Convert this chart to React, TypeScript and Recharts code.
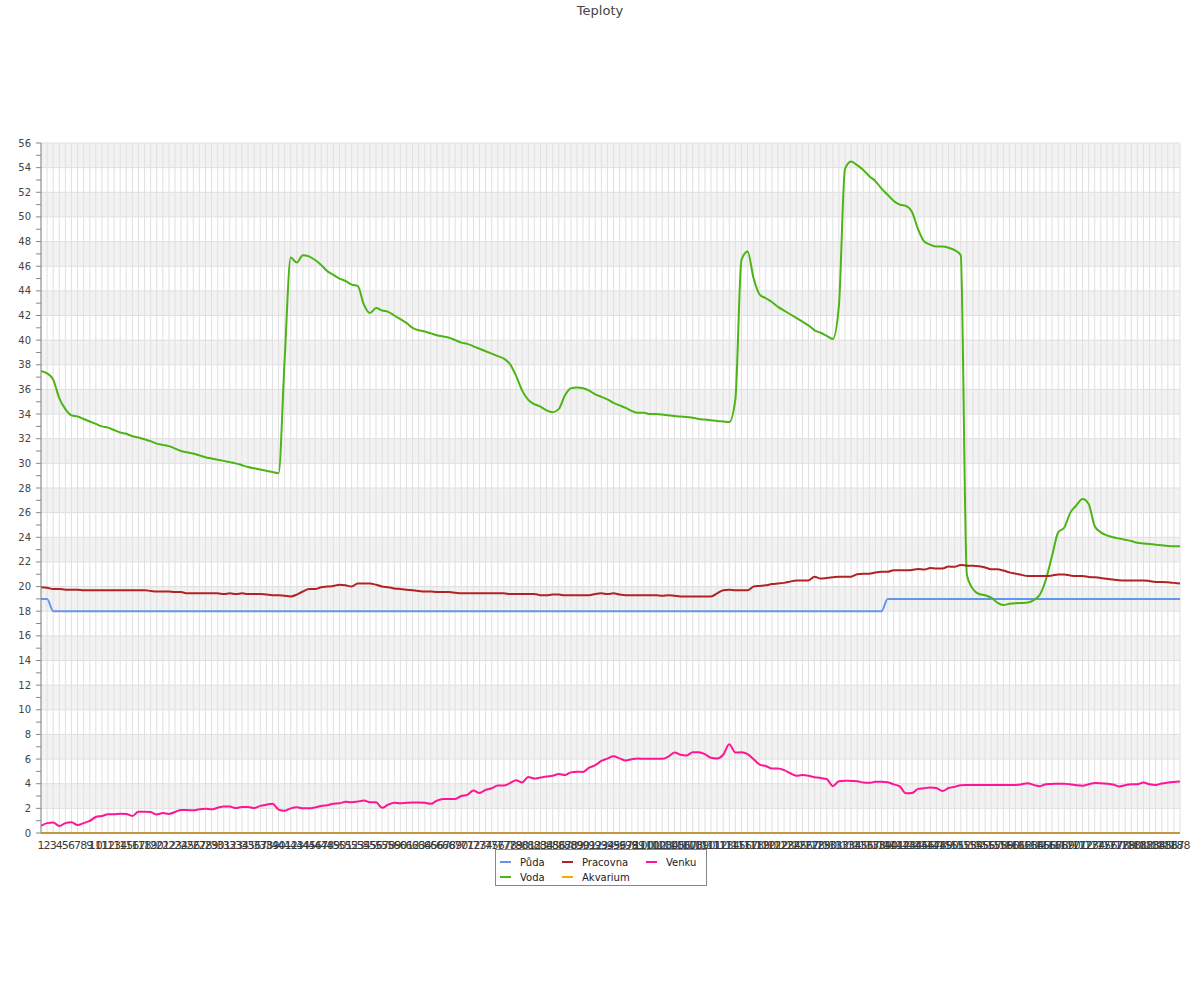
import React from 'react';
import { LineChart, Line, XAxis, YAxis, CartesianGrid } from 'recharts';

// x categories: sample number 1..188
const hours = Array.from({ length: 188 }, (_, i) => String(i + 1));

const yTicks = Array.from({ length: 57 }, (_, i) => i);
const yGridValues = yTicks.filter((v) => v % 2 === 0);

const puda = [
  19, 19, 18, 18, 18, 18, 18, 18, 18, 18,
  18, 18, 18, 18, 18, 18, 18, 18, 18, 18,
  18, 18, 18, 18, 18, 18, 18, 18, 18, 18,
  18, 18, 18, 18, 18, 18, 18, 18, 18, 18,
  18, 18, 18, 18, 18, 18, 18, 18, 18, 18,
  18, 18, 18, 18, 18, 18, 18, 18, 18, 18,
  18, 18, 18, 18, 18, 18, 18, 18, 18, 18,
  18, 18, 18, 18, 18, 18, 18, 18, 18, 18,
  18, 18, 18, 18, 18, 18, 18, 18, 18, 18,
  18, 18, 18, 18, 18, 18, 18, 18, 18, 18,
  18, 18, 18, 18, 18, 18, 18, 18, 18, 18,
  18, 18, 18, 18, 18, 18, 18, 18, 18, 18,
  18, 18, 18, 18, 18, 18, 18, 18, 18, 18,
  18, 18, 18, 18, 18, 18, 18, 18, 18, 19,
  19, 19, 19, 19, 19, 19, 19, 19, 19, 19,
  19, 19, 19, 19, 19, 19, 19, 19, 19, 19,
  19, 19, 19, 19, 19, 19, 19, 19, 19, 19,
  19, 19, 19, 19, 19, 19, 19, 19, 19, 19,
  19, 19, 19, 19, 19, 19, 19, 19,
];

const voda = [
  37.5, 37.3, 36.8, 35.3, 34.4, 33.9, 33.8, 33.6, 33.4, 33.2,
  33.0, 32.9, 32.7, 32.5, 32.4, 32.2, 32.1, 31.95, 31.8, 31.6,
  31.5, 31.4, 31.2, 31.0, 30.9, 30.8, 30.65, 30.5, 30.4, 30.3,
  30.2, 30.1, 30.0, 29.85, 29.7, 29.6, 29.5, 29.4, 29.3, 29.2,
  38.4, 46.7, 46.3, 46.9, 46.8, 46.5, 46.1, 45.6, 45.3, 45.0,
  44.8, 44.5, 44.4, 42.9, 42.2, 42.6, 42.4, 42.3, 42.0, 41.7,
  41.4, 41.0, 40.8, 40.7, 40.55, 40.4, 40.3, 40.2, 40.0, 39.8,
  39.7, 39.5, 39.3, 39.1, 38.9, 38.7, 38.5, 38.05, 37.1, 35.9,
  35.15, 34.8, 34.6, 34.3, 34.15, 34.4, 35.5, 36.1, 36.15, 36.1,
  35.9, 35.6, 35.4, 35.2, 34.9, 34.7, 34.5, 34.25, 34.1, 34.1,
  34.0, 34.0, 33.96, 33.9, 33.85, 33.8, 33.77, 33.7, 33.6, 33.55,
  33.5, 33.44, 33.4, 33.36, 35.2, 46.5, 47.2, 45.0, 43.7, 43.4,
  43.1, 42.7, 42.4, 42.1, 41.8, 41.5, 41.2, 40.8, 40.6, 40.35,
  40.1, 42.8, 53.9, 54.5, 54.2, 53.8, 53.3, 52.9, 52.3, 51.8,
  51.3, 51.0, 50.9, 50.4, 49.0, 48.0, 47.75, 47.6, 47.6, 47.5,
  47.3, 46.9, 21.0, 19.8, 19.4, 19.3, 19.1, 18.7, 18.5, 18.6,
  18.65, 18.67, 18.7, 18.9, 19.35, 20.6, 22.5, 24.4, 24.8, 26.0,
  26.6, 27.1, 26.7, 24.9, 24.4, 24.15, 24.0, 23.9, 23.8, 23.7,
  23.55, 23.5, 23.45, 23.4, 23.35, 23.3, 23.28, 23.28,
];

const pracovna = [
  19.95, 19.9, 19.8, 19.8, 19.75, 19.75, 19.75, 19.7, 19.7, 19.7,
  19.7, 19.7, 19.7, 19.7, 19.7, 19.7, 19.7, 19.7, 19.65, 19.6,
  19.6, 19.6, 19.55, 19.55, 19.45, 19.45, 19.45, 19.45, 19.45, 19.45,
  19.4, 19.45, 19.4, 19.45, 19.4, 19.4, 19.4, 19.35, 19.3, 19.3,
  19.25, 19.2, 19.35, 19.6, 19.8, 19.8, 19.95, 20.0, 20.05, 20.15,
  20.1, 20.0, 20.25, 20.25, 20.25, 20.15, 20.0, 19.95, 19.85, 19.8,
  19.75, 19.7, 19.65, 19.6, 19.6, 19.55, 19.55, 19.55, 19.5, 19.45,
  19.45, 19.45, 19.45, 19.45, 19.45, 19.45, 19.45, 19.4, 19.4, 19.4,
  19.4, 19.4, 19.3, 19.3, 19.35, 19.35, 19.3, 19.3, 19.3, 19.3,
  19.3, 19.4, 19.45, 19.4, 19.45, 19.35, 19.3, 19.3, 19.3, 19.3,
  19.3, 19.3, 19.25, 19.3, 19.25, 19.2, 19.2, 19.2, 19.2, 19.2,
  19.2, 19.45, 19.7, 19.75, 19.7, 19.7, 19.7, 20.0, 20.05, 20.1,
  20.2, 20.25, 20.3, 20.4, 20.5, 20.5, 20.5, 20.8, 20.65, 20.7,
  20.75, 20.8, 20.8, 20.8, 21.0, 21.05, 21.05, 21.15, 21.2, 21.2,
  21.33, 21.33, 21.33, 21.35, 21.42, 21.38, 21.5, 21.47, 21.47, 21.62,
  21.6, 21.75, 21.7, 21.7, 21.65, 21.55, 21.4, 21.4, 21.3, 21.15,
  21.05, 20.95, 20.85, 20.85, 20.85, 20.85, 20.9, 20.98, 20.98, 20.9,
  20.85, 20.85, 20.78, 20.75, 20.7, 20.63, 20.57, 20.52, 20.5, 20.5,
  20.5, 20.5, 20.45, 20.38, 20.38, 20.35, 20.3, 20.25,
];

const akvarium = [
  0, 0, 0, 0, 0, 0, 0, 0, 0, 0,
  0, 0, 0, 0, 0, 0, 0, 0, 0, 0,
  0, 0, 0, 0, 0, 0, 0, 0, 0, 0,
  0, 0, 0, 0, 0, 0, 0, 0, 0, 0,
  0, 0, 0, 0, 0, 0, 0, 0, 0, 0,
  0, 0, 0, 0, 0, 0, 0, 0, 0, 0,
  0, 0, 0, 0, 0, 0, 0, 0, 0, 0,
  0, 0, 0, 0, 0, 0, 0, 0, 0, 0,
  0, 0, 0, 0, 0, 0, 0, 0, 0, 0,
  0, 0, 0, 0, 0, 0, 0, 0, 0, 0,
  0, 0, 0, 0, 0, 0, 0, 0, 0, 0,
  0, 0, 0, 0, 0, 0, 0, 0, 0, 0,
  0, 0, 0, 0, 0, 0, 0, 0, 0, 0,
  0, 0, 0, 0, 0, 0, 0, 0, 0, 0,
  0, 0, 0, 0, 0, 0, 0, 0, 0, 0,
  0, 0, 0, 0, 0, 0, 0, 0, 0, 0,
  0, 0, 0, 0, 0, 0, 0, 0, 0, 0,
  0, 0, 0, 0, 0, 0, 0, 0, 0, 0,
  0, 0, 0, 0, 0, 0, 0, 0,
];

const venku = [
  0.57, 0.8, 0.85, 0.57, 0.8, 0.87, 0.65, 0.8, 0.98, 1.3,
  1.38, 1.52, 1.52, 1.57, 1.55, 1.38, 1.73, 1.73, 1.7, 1.5,
  1.62, 1.55, 1.7, 1.87, 1.86, 1.85, 1.93, 1.97, 1.92, 2.05,
  2.15, 2.15, 2.02, 2.12, 2.12, 2.02, 2.2, 2.3, 2.38, 1.9,
  1.8, 2.0, 2.1, 2.0, 2.0, 2.08, 2.2, 2.25, 2.38, 2.41,
  2.53, 2.5, 2.55, 2.63, 2.5, 2.49, 2.05, 2.3, 2.45, 2.42,
  2.45, 2.47, 2.47, 2.45, 2.37, 2.63, 2.76, 2.76, 2.76, 3.0,
  3.1, 3.44, 3.25, 3.5, 3.63, 3.85, 3.85, 4.05, 4.28, 4.1,
  4.55, 4.42, 4.5, 4.58, 4.65, 4.78, 4.7, 4.92, 4.98, 4.96,
  5.3, 5.5, 5.85, 6.04, 6.22, 6.06, 5.88, 5.99, 6.05, 6.02,
  6.02, 6.02, 6.02, 6.2, 6.54, 6.35, 6.29, 6.55, 6.55, 6.4,
  6.1, 6.05, 6.35, 7.2, 6.53, 6.55, 6.4, 5.98, 5.55, 5.44,
  5.23, 5.23, 5.1, 4.85, 4.65, 4.7, 4.65, 4.53, 4.47, 4.38,
  3.8, 4.2, 4.25, 4.22, 4.2, 4.1, 4.07, 4.15, 4.15, 4.12,
  3.95, 3.78, 3.22, 3.25, 3.58, 3.63, 3.7, 3.65, 3.4, 3.65,
  3.75, 3.88, 3.9, 3.9, 3.9, 3.9, 3.9, 3.9, 3.9, 3.9,
  3.9, 3.95, 4.04, 3.9, 3.8, 3.96, 3.98, 4.0, 4.0, 3.95,
  3.88, 3.84, 3.95, 4.06, 4.04, 4.0, 3.93, 3.78, 3.88, 3.96,
  3.96, 4.09, 3.96, 3.9, 4.02, 4.09, 4.14, 4.17,
];

const series = [
  { key: 'puda', name: 'Půda', color: '#6495ed', values: puda },
  { key: 'voda', name: 'Voda', color: '#4cb515', values: voda },
  { key: 'pracovna', name: 'Pracovna', color: '#b22222', values: pracovna },
  { key: 'akvarium', name: 'Akvarium', color: '#ffa500', values: akvarium },
  { key: 'venku', name: 'Venku', color: '#ff1493', values: venku },
];

const data = hours.map((hour, i) => {
  const row: Record<string, string | number> = { hour };
  series.forEach((s) => {
    row[s.key] = s.values[i];
  });
  return row;
});

const FONT = '"DejaVu Sans", Verdana, sans-serif';

// labels only on even values, odd values keep just the small tick mark
const YTick = (props: any) => {
  const { x, y, payload } = props;
  if (payload.value % 2 !== 0) return <g />;
  return (
    <text x={x} y={y} dy={3.5} textAnchor="end" fontSize={10} fill="#444" fontFamily={FONT}>
      {payload.value}
    </text>
  );
};

const legendCols = [500, 562, 646];
const legendRows = [862, 877];

const App = () => {
  return (
    <div style={{ position: 'absolute', left: 0, top: 0, width: 1200, height: 1000, background: '#fff', fontFamily: FONT }}>
      <div style={{ position: 'absolute', top: 3, left: 0, width: 1200, textAlign: 'center', fontSize: 13, lineHeight: '16px', color: '#444' }}>
        Teploty
      </div>

      <LineChart width={1200} height={1000} data={data} margin={{ top: 143, right: 20, bottom: 137, left: 6 }}>
        <CartesianGrid
          stroke="#e0e0e0"
          horizontalValues={yGridValues}
          horizontalFill={['#f2f2f2', '#ffffff']}
        />
        <XAxis
          dataKey="hour"
          interval={0}
          height={30}
          tickLine={false}
          tickSize={5}
          tickMargin={3}
          axisLine={{ stroke: '#888' }}
          tick={{ fontSize: 11, fill: '#3a3a3a', fontFamily: FONT }}
        />
        <YAxis
          width={35}
          domain={[0, 56]}
          ticks={yTicks}
          interval={0}
          tickSize={5}
          tickMargin={5}
          axisLine={{ stroke: '#888' }}
          tickLine={{ stroke: '#888' }}
          tick={<YTick />}
        />
        {series.map((s) => (
          <Line
            key={s.key}
            type="monotone"
            dataKey={s.key}
            name={s.name}
            stroke={s.color}
            strokeWidth={2}
            dot={false}
            activeDot={false}
            isAnimationActive={false}
          />
        ))}
      </LineChart>

      {/* Legend box below the plot */}
      <div style={{ position: 'absolute', left: 495, top: 849, width: 212, height: 37, border: '1px solid #888', boxSizing: 'border-box' }} />
      {series.map((s, i) => (
        <div
          key={s.key}
          style={{
            position: 'absolute',
            left: legendCols[Math.floor(i / 2)],
            top: legendRows[i % 2] - 8,
            height: 16,
            display: 'flex',
            alignItems: 'center',
            fontSize: 10,
            color: '#222',
          }}
        >
          <span style={{ display: 'inline-block', width: 11, height: 2, background: s.color, marginRight: 9 }} />
          <span>{s.name}</span>
        </div>
      ))}
    </div>
  );
};

export default App;
